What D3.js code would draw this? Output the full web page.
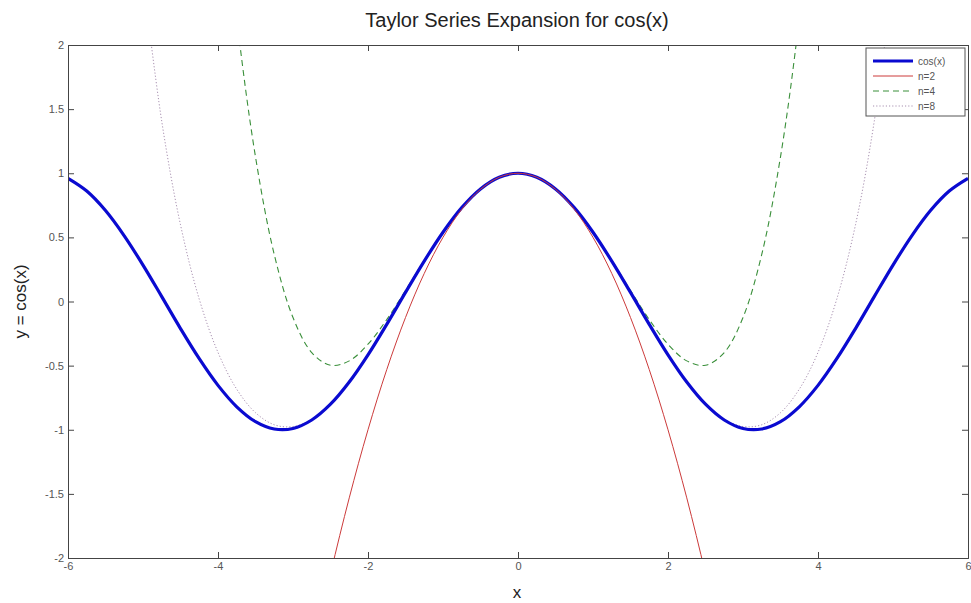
<!DOCTYPE html>
<html lang="en">
<head>
<meta charset="utf-8">
<title>Taylor Series Expansion for cos(x)</title>
<script src="https://d3js.org/d3.v7.min.js"></script>
<style>
  body { margin: 0; background: #fff; }
  text { font-family: "Liberation Sans", Arial, sans-serif; }
</style>
</head>
<body>
<script>
// sample values, x step 0.25
var cosY = [0.960,0.861,0.709,0.512,0.284,0.038,-0.211,-0.446,-0.654,-0.821,-0.937,-0.994,
  -0.990,-0.924,-0.801,-0.628,-0.416,-0.178,0.071,0.315,0.540,0.732,0.878,0.969,
  1.000,
  0.969,0.878,0.732,0.540,0.315,0.071,-0.178,-0.416,-0.628,-0.801,-0.924,-0.990,
  -0.994,-0.937,-0.821,-0.654,-0.446,-0.211,0.038,0.284,0.512,0.709,0.861,0.960];
var n2Y = [-2.781,-2.125,-1.531,-1,-0.531,-0.125,0.219,0.5,0.719,0.875,0.969,
  1,
  0.969,0.875,0.719,0.5,0.219,-0.125,-0.531,-1,-1.531,-2.125,-2.781];
var n4Y = [3.667,2.209,1.128,0.367,-0.125,-0.398,-0.497,-0.463,-0.333,-0.141,0.086,0.321,0.542,0.732,0.878,0.969,
  1,
  0.969,0.878,0.732,0.542,0.321,0.086,-0.141,-0.333,-0.463,-0.497,-0.398,-0.125,0.367,1.128,2.209,3.667];
var n8Y = [2.529,1.405,0.598,0.018,-0.397,-0.684,-0.867,-0.961,-0.975,-0.918,-0.799,-0.627,-0.416,-0.178,0.071,0.315,0.540,0.732,0.878,0.969,
  1,
  0.969,0.878,0.732,0.540,0.315,0.071,-0.178,-0.416,-0.627,-0.799,-0.918,-0.975,-0.961,-0.867,-0.684,-0.397,0.018,0.598,1.405,2.529];

var xTicks = [-6,-4,-2,0,2,4,6];
var yTicks = [-2,-1.5,-1,-0.5,0,0.5,1,1.5,2];
var names = ["cos(x)","n=2","n=4","n=8"];

var width = 971, height = 603;
var pl = 68, pr = 968, pt = 45, pb = 558;

var svg = d3.select("body").append("svg")
    .attr("width", width)
    .attr("height", height);

var x = d3.scaleLinear().domain([-6, 6]).range([pl, pr]);
var y = d3.scaleLinear().domain([-2, 2]).range([pb, pt]);

svg.append("defs").append("clipPath").attr("id", "plot")
  .append("rect").attr("x", pl).attr("y", pt)
  .attr("width", pr - pl).attr("height", pb - pt);

function pts(ys, x0) {
  return ys.map(function(v, i) { return [x0 + i * 0.25, v]; });
}

var series = [
  {data: pts(cosY, -6), color: "#0a0ad0", w: 3.2, dash: null},
  {data: pts(n2Y, -2.75), color: "#cc3b3b", w: 1, dash: null},
  {data: pts(n4Y, -4), color: "#3a8f3a", w: 1.1, dash: "6,4"},
  {data: pts(n8Y, -5), color: "#a890b0", w: 1, dash: "1.2,2"}
];

var line = d3.line()
    .x(function(d) { return x(d[0]); })
    .y(function(d) { return y(d[1]); })
    .curve(d3.curveCatmullRom);

var g = svg.append("g").attr("clip-path", "url(#plot)");
// thin ones first, cos on top, n=2 last
[3, 2, 0, 1].forEach(function(i) {
  var s = series[i];
  g.append("path")
    .attr("d", line(s.data))
    .attr("fill", "none")
    .attr("stroke", s.color)
    .attr("stroke-width", s.w)
    .attr("stroke-dasharray", s.dash);
});

var fmt = function(d) { return String(d); };

// axes, matlab style ticks inside on all four sides
svg.append("g").attr("transform", "translate(0," + pb + ")")
  .call(d3.axisBottom(x).tickValues(xTicks).tickSize(-6).tickPadding(4).tickFormat(fmt));
svg.append("g").attr("transform", "translate(0," + pt + ")")
  .call(d3.axisTop(x).tickValues(xTicks).tickSize(-6).tickFormat(""));
svg.append("g").attr("transform", "translate(" + pl + ",0)")
  .call(d3.axisLeft(y).tickValues(yTicks).tickSize(-6).tickPadding(4).tickFormat(fmt));
svg.append("g").attr("transform", "translate(" + pr + ",0)")
  .call(d3.axisRight(y).tickValues(yTicks).tickSize(-6).tickFormat(""));

svg.selectAll(".domain").attr("stroke", "#444");
svg.selectAll(".tick line").attr("stroke", "#444");
svg.selectAll(".tick text").attr("fill", "#555").style("font-size", "11px")
  .style("font-family", "'Liberation Sans', Arial, sans-serif");

svg.append("text")
  .attr("x", 517).attr("y", 27)
  .attr("text-anchor", "middle")
  .style("font-size", "20px").attr("fill", "#222")
  .text("Taylor Series Expansion for cos(x)");

svg.append("text")
  .attr("x", 517).attr("y", 598)
  .attr("text-anchor", "middle")
  .style("font-size", "17px").attr("fill", "#222")
  .text("x");

svg.append("text")
  .attr("transform", "translate(26," + ((pt + pb) / 2) + ") rotate(-90)")
  .attr("text-anchor", "middle")
  .style("font-size", "17px").attr("fill", "#222")
  .text("y = cos(x)");

// legend
var lg = svg.append("g");
lg.append("rect")
  .attr("x", 866).attr("y", 48).attr("width", 99).attr("height", 68)
  .attr("fill", "#fff").attr("stroke", "#555").attr("stroke-width", 1);
names.forEach(function(n, i) {
  var s = series[i], yy = 61 + i * 15;
  lg.append("line")
    .attr("x1", 873).attr("x2", 913).attr("y1", yy).attr("y2", yy)
    .attr("stroke", s.color).attr("stroke-width", s.w)
    .attr("stroke-dasharray", s.dash);
  lg.append("text")
    .attr("x", 918).attr("y", yy + 4)
    .style("font-size", "10px").attr("fill", "#555")
    .text(n);
});
</script>
</body>
</html>
